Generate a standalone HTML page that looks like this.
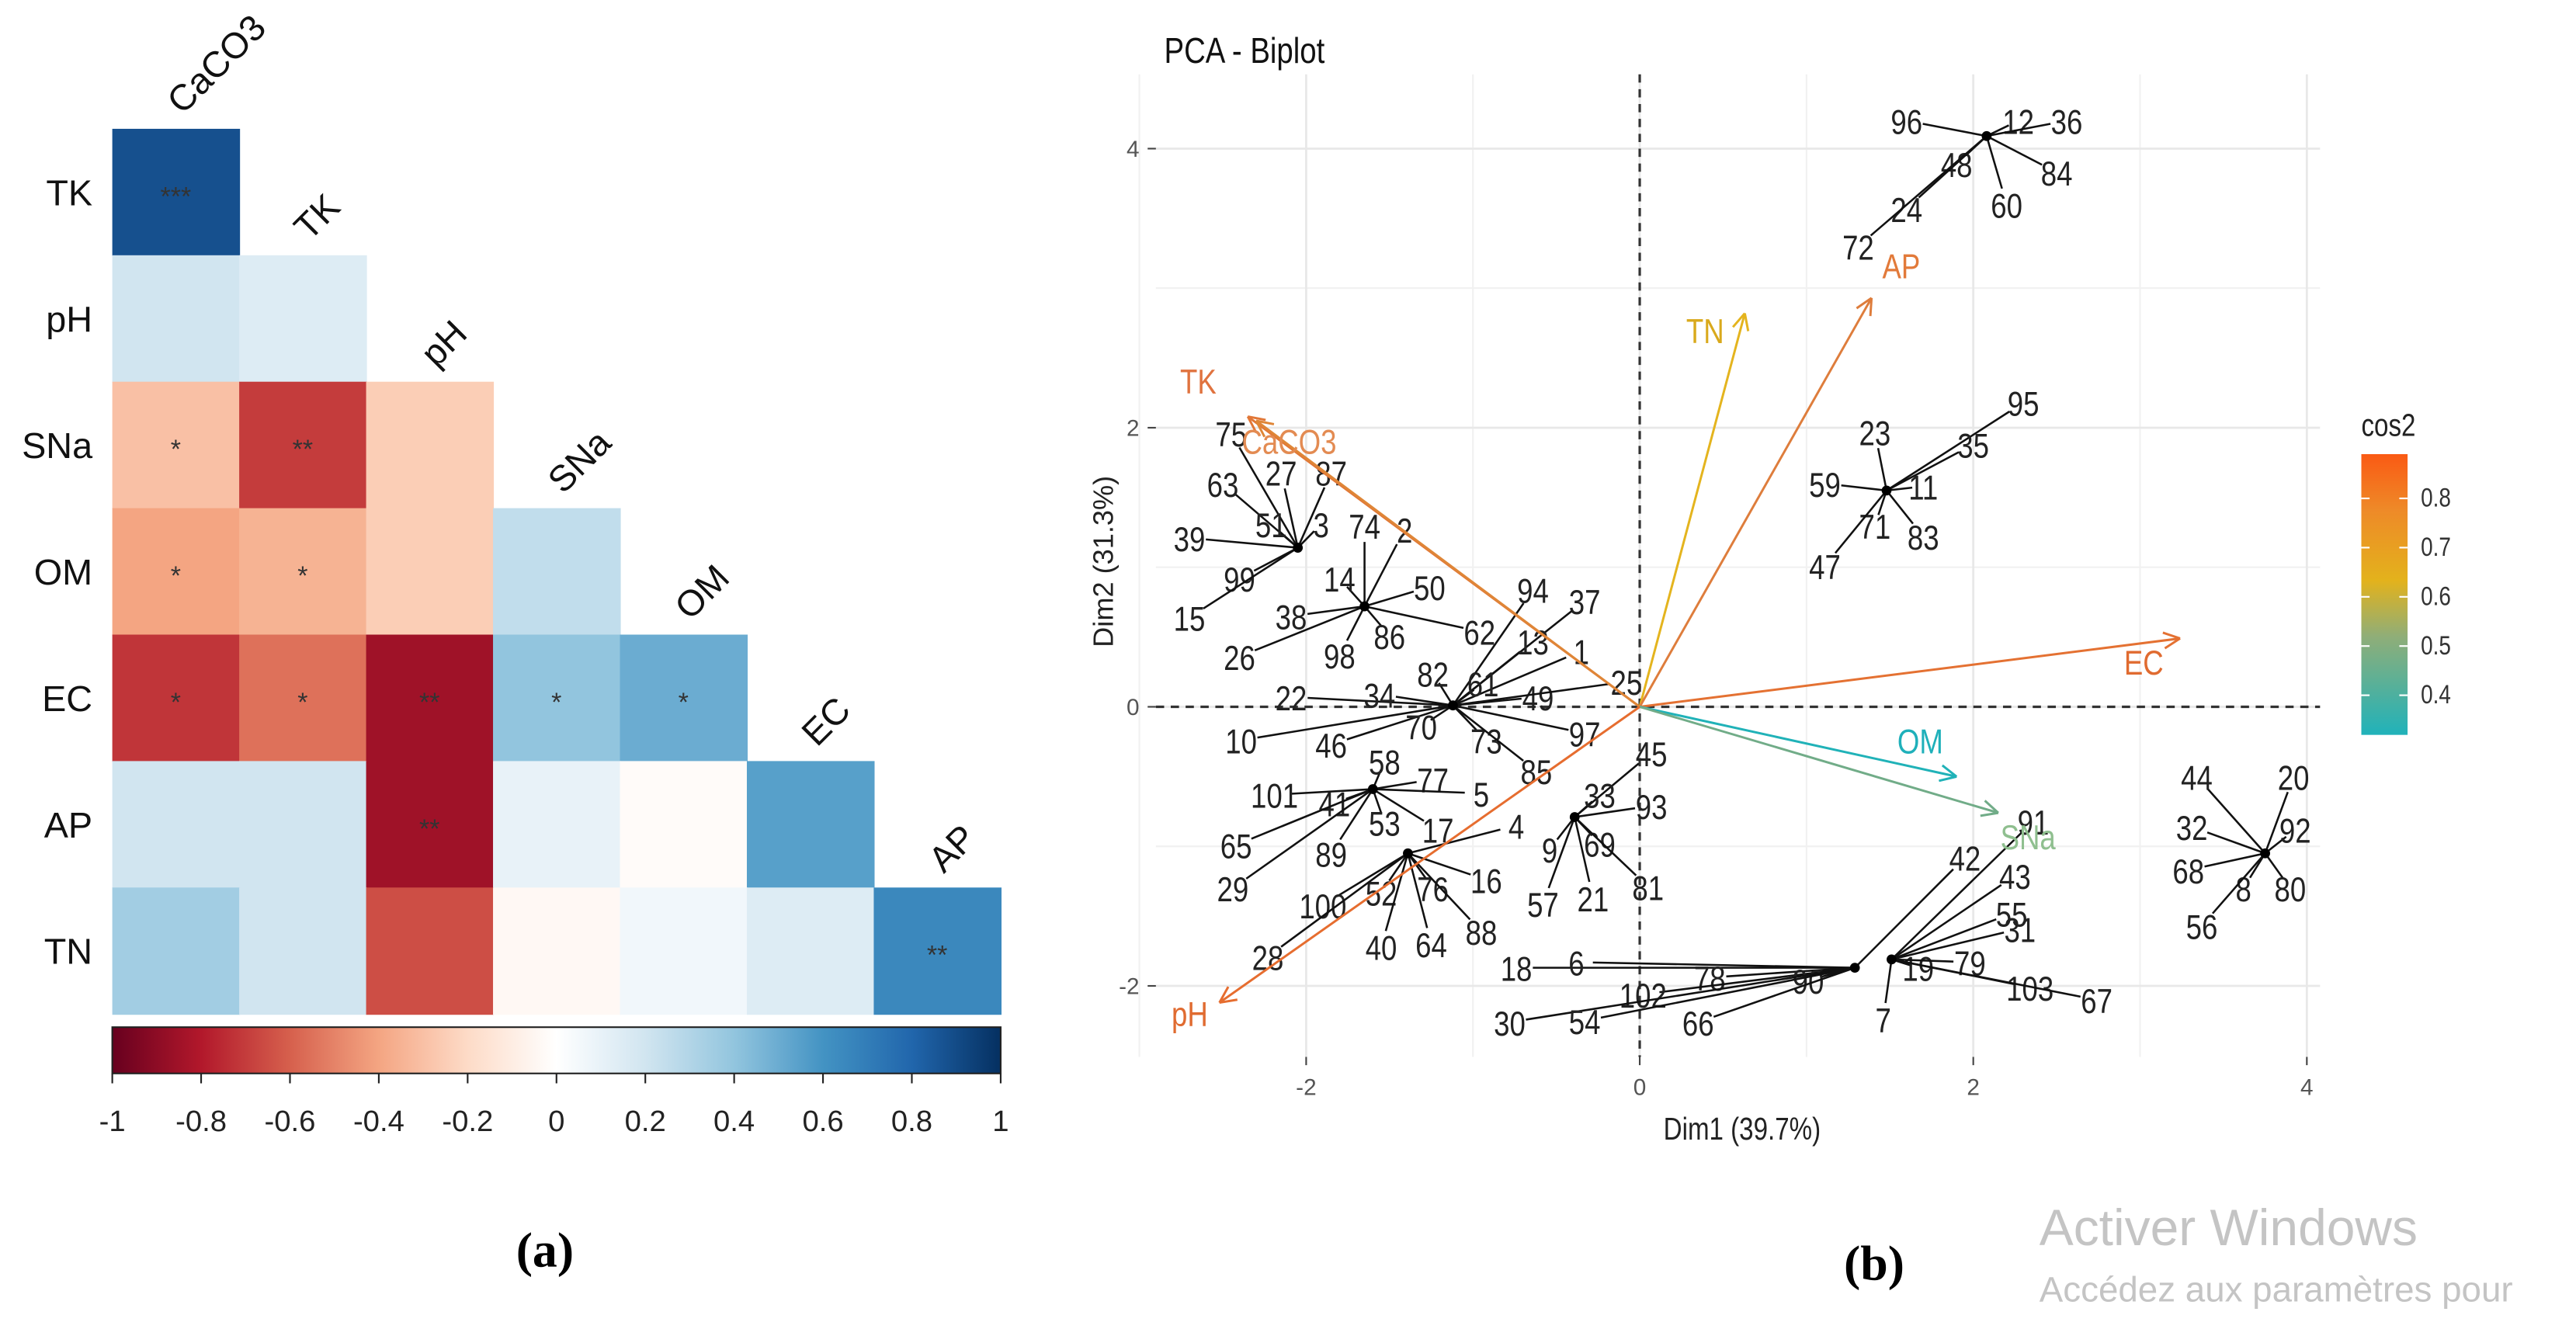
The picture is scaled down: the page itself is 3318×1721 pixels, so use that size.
<!DOCTYPE html>
<html><head><meta charset="utf-8">
<style>
html,body{margin:0;padding:0;background:#fff;}
svg{display:block;}
text{font-family:"Liberation Sans",sans-serif;}
.n{font-family:"Liberation Sans Narrow","Liberation Sans",sans-serif;}
</style></head>
<body>
<svg id="fig" width="3318" height="1721" viewBox="0 0 1560 809" preserveAspectRatio="none" xmlns="http://www.w3.org/2000/svg">
<rect width="1560" height="809" fill="#fff"/>
<g id="heat"></g>
<g id="pca"></g>
<text x="330" y="767" font-weight="bold" font-size="30" text-anchor="middle" style="font-family:'Liberation Serif',serif">(a)</text>
<text x="1135" y="775" font-weight="bold" font-size="30" text-anchor="middle" style="font-family:'Liberation Serif',serif">(b)</text>
<text x="1235" y="754" font-size="31" fill="#c4c4c4">Activer Windows</text>
<text x="1235" y="788" font-size="21.5" fill="#c4c4c4">Accédez aux paramètres pour</text>
</svg>
<script>
const NS='http://www.w3.org/2000/svg';
function mk(tag,attrs,parent,txt){const e=document.createElementNS(NS,tag);for(const k in attrs)e.setAttribute(k,attrs[k]);if(txt!==undefined)e.textContent=txt;parent.appendChild(e);return e;}

// ---------- Heatmap data ----------
const vars=['CaCO3','TK','pH','SNa','OM','EC','AP','TN'];
const rowVars=['TK','pH','SNa','OM','EC','AP','TN'];
const corrRows=[
 [0.88],
 [0.2,0.15],
 [-0.3,-0.7,-0.25],
 [-0.4,-0.35,-0.25,0.25],
 [-0.72,-0.55,-0.85,0.4,0.5],
 [0.2,0.2,-0.85,0.1,-0.02,0.55],
 [0.35,0.2,-0.65,-0.04,0.06,0.15,0.65]
];
const stars=[
 ['***'],
 ['',''],
 ['*','**',''],
 ['*','*','',''],
 ['*','*','**','*','*'],
 ['','','**','','',''],
 ['','','','','','','**']
];
const cbTicks=[-1,-0.8,-0.6,-0.4,-0.2,0,0.2,0.4,0.6,0.8,1];

const rdbu=[[103,0,31],[178,24,43],[214,96,77],[244,165,130],[253,219,199],[255,255,255],[209,229,240],[146,197,222],[67,147,195],[33,102,172],[5,48,97]];
function col(v){const t=(v+1)/2*10;const i=Math.min(9,Math.floor(t));const f=t-i;const a=rdbu[i],b=rdbu[i+1];return 'rgb('+a.map((c,k)=>Math.round(c+(b[k]-c)*f)).join(',')+')';}

const H=document.getElementById('heat');
const hx0=68,hy0=78,cw=(606-68)/7,ch=(614-78)/7;
corrRows.forEach((row,i)=>{
  row.forEach((v,j)=>{
    const r=mk('rect',{x:hx0+j*cw,y:hy0+i*ch,width:cw+0.5,height:ch+0.5,fill:col(v)},H);
    
    
    if(stars[i][j]){const t=mk('text',{x:hx0+(j+0.5)*cw,y:hy0+(i+0.5)*ch+8,'text-anchor':'middle','font-size':16,fill:'#333'},H,stars[i][j]);
      
      }
  });
  const l=mk('text',{x:56,y:hy0+(i+0.5)*ch+8,'text-anchor':'end','font-size':22,fill:'#111'},H,rowVars[i]);
  
  
});
for(let j=0;j<7;j++){
  const cx=hx0+(j+0.5)*cw+4, cy=hy0+j*ch-8;
  const t=mk('text',{x:cx,y:cy,'font-size':22,fill:'#111',transform:'rotate(-45 '+cx+' '+cy+')'},H,vars[j]);
  
  
}
// colorbar
const defs=mk('defs',{},H);
const lg=mk('linearGradient',{id:'rdbu',x1:0,x2:1,y1:0,y2:0},defs);
for(let k=0;k<=20;k++){const v=-1+k/10;mk('stop',{offset:(k/20),'stop-color':col(v)},lg);}
const cb=mk('rect',{x:68,y:622,width:538,height:28,fill:'url(#rdbu)',stroke:'#222','stroke-width':1},H);


cbTicks.forEach(v=>{
  const x=68+(v+1)/2*538;
  mk('line',{x1:x,x2:x,y1:650,y2:656,stroke:'#222'},H);
  const t=mk('text',{x:x,y:685,'text-anchor':'middle','font-size':18,fill:'#222'},H,String(v));
  
  
});

// ---------- PCA data ----------
const xTicks=[-2,0,2,4];
const yTicks=[-2,0,2,4];
const centroids=[[2.08,4.09],[1.48,1.55],[-2.05,1.14],[-1.65,0.72],[-1.12,0.01],[-1.6,-0.59],[-1.39,-1.05],[-0.39,-0.79],[1.29,-1.87],[1.51,-1.81],[3.75,-1.05]];
const groupLabels=[
 ['96','12','36','48','84','60','24','72'],
 ['95','35','23','11','59','71','83','47'],
 ['75','27','87','63','51','3','39','99','15'],
 ['74','2','14','50','38','86','62','98','26'],
 ['94','37','13','1','82','61','49','25','22','34','97','10','46','70','73','85'],
 ['58','77','5','101','41','53','17','65','89','29'],
 ['4','16','100','52','76','88','40','64','28'],
 ['45','33','93','9','69','57','21','81'],
 ['18','6','78','102','90','30','54','66','42'],
 ['91','43','55','31','19','79','103','67','7'],
 ['44','20','32','92','68','8','80','56']
];
const groupX=[
 [1.60,2.27,2.56,1.90,2.50,2.20,1.60,1.31],
 [2.30,2.00,1.41,1.70,1.11,1.41,1.70,1.11],
 [-2.45,-2.15,-1.85,-2.50,-2.21,-1.91,-2.70,-2.40,-2.70],
 [-1.65,-1.41,-1.80,-1.26,-2.09,-1.50,-0.96,-1.80,-2.40],
 [-0.64,-0.33,-0.64,-0.35,-1.24,-0.94,-0.61,-0.08,-2.09,-1.56,-0.33,-2.39,-1.85,-1.31,-0.92,-0.62],
 [-1.53,-1.24,-0.95,-2.19,-1.83,-1.53,-1.21,-2.42,-1.85,-2.44],
 [-0.74,-0.92,-1.90,-1.55,-1.24,-0.95,-1.55,-1.25,-2.23],
 [0.07,-0.24,0.07,-0.54,-0.24,-0.58,-0.28,0.05],
 [-0.74,-0.38,0.42,0.02,1.01,-0.78,-0.33,0.35,1.95],
 [2.36,2.25,2.23,2.28,1.67,1.98,2.34,2.74,1.46],
 [3.34,3.92,3.31,3.93,3.29,3.62,3.90,3.37]
];
const groupY=[
 [4.20,4.20,4.20,3.89,3.83,3.60,3.57,3.30],
 [2.18,1.88,1.97,1.58,1.60,1.30,1.22,1.01],
 [1.96,1.68,1.68,1.60,1.31,1.31,1.21,0.92,0.64],
 [1.30,1.27,0.92,0.86,0.65,0.51,0.54,0.37,0.36],
 [0.84,0.76,0.47,0.40,0.24,0.17,0.07,0.18,0.07,0.09,-0.19,-0.24,-0.27,-0.14,-0.24,-0.46],
 [-0.39,-0.52,-0.62,-0.63,-0.69,-0.83,-0.88,-0.99,-1.05,-1.30],
 [-0.85,-1.24,-1.42,-1.33,-1.30,-1.61,-1.72,-1.70,-1.79],
 [-0.33,-0.63,-0.71,-1.02,-0.98,-1.41,-1.37,-1.29],
 [-1.87,-1.83,-1.94,-2.06,-1.96,-2.26,-2.25,-2.26,-1.08],
 [-0.82,-1.21,-1.48,-1.59,-1.87,-1.83,-2.01,-2.10,-2.24],
 [-0.50,-0.50,-0.86,-0.88,-1.17,-1.30,-1.30,-1.57]
];
const arrowNames=['TK','CaCO3','TN','AP','EC','OM','SNa','pH'];
const arrowX=[-2.35,-2.3,0.63,1.39,3.24,1.90,2.15,-2.52];
const arrowY=[2.08,2.05,2.82,2.93,0.49,-0.50,-0.76,-2.12];
const arrowCos2=[0.75,0.7,0.6,0.72,0.78,0.3,0.45,0.8];
const cos2Ticks=[0.4,0.5,0.6,0.7,0.8];

const sx=v=>993+v*101;
const sy=v=>428-v*84.5;
function cosCol(c){const stops=[[0.3,[32,178,184]],[0.5,[140,170,120]],[0.6,[228,180,30]],[0.72,[222,125,60]],[0.9,[240,90,30]]];
 for(let i=0;i<stops.length-1;i++){if(c<=stops[i+1][0]){const f=Math.max(0,(c-stops[i][0])/(stops[i+1][0]-stops[i][0]));const a=stops[i][1],b=stops[i+1][1];return 'rgb('+a.map((v,k)=>Math.round(v+(b[k]-v)*f)).join(',')+')';}}
 return 'rgb(240,90,30)';}
const labelCol={TK:'#e0733f',CaCO3:'#e38b52',TN:'#d9a91c',AP:'#e27a3a',EC:'#e06b30',OM:'#1fb0ba',SNa:'#8fbf8f',pH:'#e06b30'};
const SC=0.82;
function ntext(x,y,str,size,fill,parent,anchor){
  return mk('text',{x:x/SC,y:y,'text-anchor':anchor||'middle','font-size':size,fill:fill,transform:'scale('+SC+',1)'},parent,str);
}

const P=document.getElementById('pca');
ntext(705,38,'PCA - Biplot',22,'#111',P,'start');
// grid
const gx0=700,gx1=1405,gy0=45,gy1=640;
[-3,-1,1,3].forEach(v=>mk('line',{x1:sx(v),x2:sx(v),y1:gy0,y2:gy1,stroke:'#f1f1f1','stroke-width':1},P));
[-1,1,3].forEach(v=>mk('line',{x1:gx0,x2:gx1,y1:sy(v),y2:sy(v),stroke:'#f1f1f1','stroke-width':1},P));
xTicks.forEach(v=>{mk('line',{x1:sx(v),x2:sx(v),y1:gy0,y2:gy1,stroke:'#e8e8e8','stroke-width':1.3},P);
  mk('line',{x1:sx(v),x2:sx(v),y1:gy1,y2:gy1+5,stroke:'#444'},P);
  const t=mk('text',{x:sx(v),y:gy1+23,'text-anchor':'middle','font-size':14,fill:'#555'},P,String(v));
  
  });
yTicks.forEach(v=>{mk('line',{x1:gx0,x2:gx1,y1:sy(v),y2:sy(v),stroke:'#e8e8e8','stroke-width':1.3},P);
  mk('line',{x1:gx0-5,x2:gx0,y1:sy(v),y2:sy(v),stroke:'#444'},P);
  const t=mk('text',{x:gx0-10,y:sy(v)+5,'text-anchor':'end','font-size':14,fill:'#555'},P,String(v));
  
  });
mk('line',{x1:gx0,x2:gx1,y1:sy(0),y2:sy(0),stroke:'#333','stroke-width':1.5,'stroke-dasharray':'5,4'},P);
mk('line',{x1:sx(0),x2:sx(0),y1:gy0,y2:gy1,stroke:'#333','stroke-width':1.5,'stroke-dasharray':'5,4'},P);
ntext(1055,690,'Dim1 (39.7%)',19,'#222',P);
mk('text',{x:674,y:340,'text-anchor':'middle','font-size':17,fill:'#222',transform:'rotate(-90 674 340)'},P,'Dim2 (31.3%)');

// points
centroids.forEach((c,g)=>{
  const cx=sx(c[0]),cy=sy(c[1]);
  groupLabels[g].forEach((lab,k)=>{
    const lx=sx(groupX[g][k]),ly=sy(groupY[g][k]);
    const dx=lx-cx,dy=ly-cy,d=Math.hypot(dx,dy)||1;
    const sh=Math.min(10,d*0.3);
    mk('line',{x1:cx,y1:cy,x2:lx-dx/d*sh,y2:ly-dy/d*sh,stroke:'#111','stroke-width':1.2},P);
    const t=ntext(lx,ly+8,lab,21,'#222',P);
    
    
  });
  const dot=mk('circle',{cx:cx,cy:cy,r:3,fill:'#000'},P);
  
  
});
// arrows
const labOff={TK:[-30,-14],CaCO3:[20,20],TN:[-24,18],AP:[18,-12],EC:[-22,22],OM:[-22,-14],SNa:[18,22],pH:[-18,14]};
arrowNames.forEach((n,i)=>{
  const x2=sx(arrowX[i]),y2=sy(arrowY[i]),x1=sx(0),y1=sy(0);
  const c=cosCol(arrowCos2[i]);
  const g=mk('g',{},P);
  
  
  mk('line',{x1:x1,y1:y1,x2:x2,y2:y2,stroke:c,'stroke-width':1.4},g);
  const a=Math.atan2(y2-y1,x2-x1),L=11;
  [0.45,-0.45].forEach(s=>mk('line',{x1:x2,y1:y2,x2:x2-L*Math.cos(a+s),y2:y2-L*Math.sin(a+s),stroke:c,'stroke-width':1.4},g));
  const o=labOff[n];
  ntext(x2+o[0],y2+o[1],n,21,labelCol[n],g);
});
// cos2 legend
const d2=mk('defs',{},P);
const g2=mk('linearGradient',{id:'cosg',x1:0,x2:0,y1:1,y2:0},d2);
[[0,'#20b2ba'],[0.35,'#8fae78'],[0.55,'#e3b21c'],[0.8,'#ee8a28'],[1,'#fa5a14']].forEach(s=>mk('stop',{offset:s[0],'stop-color':s[1]},g2));
ntext(1430,264,'cos2',19,'#222',P,'start');
mk('rect',{x:1430,y:275,width:28,height:170,fill:'url(#cosg)'},P);
cos2Ticks.forEach(v=>{const y=421-(v-0.4)*298;
  mk('line',{x1:1430,x2:1435,y1:y,y2:y,stroke:'#fff'},P);mk('line',{x1:1453,x2:1458,y1:y,y2:y,stroke:'#fff'},P);
  const t=ntext(1466,y+5,String(v),16,'#333',P,'start');
  
  });
</script>
</body></html>
